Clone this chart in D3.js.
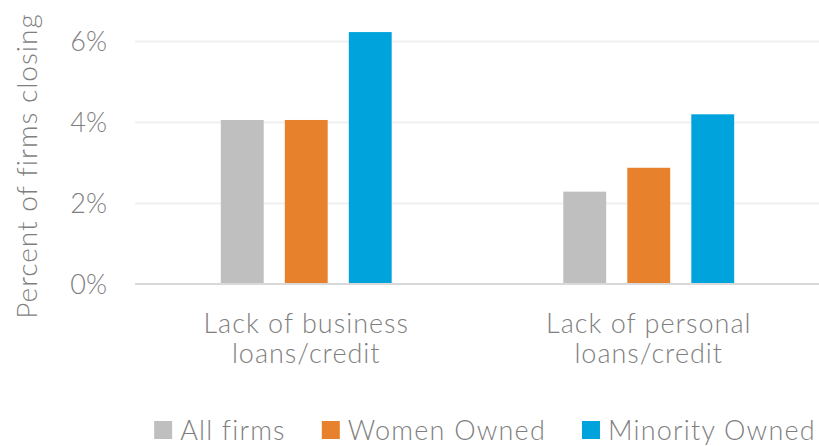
<!DOCTYPE html>
<html lang="en">

<head>
    <meta charset="utf-8">
    <script src="https://d3js.org/d3.v7.min.js"></script>
    <style>
        body { margin: 0; background: #fff; }
        svg text { font-family: Lato, "Open Sans", sans-serif; font-weight: 300; fill: #7f7f7f; }
    </style>
</head>

<body>
    <div id="chart"></div>

    <script>
        // Data
        const categories = [["Lack of business", "loans/credit"], ["Lack of personal", "loans/credit"]];
        const series = ["All firms", "Women Owned", "Minority Owned"];
        const colors = ["#bfbfbf", "#e8812c", "#00a3db"];
        const allFirms = [0.0405, 0.0228];
        const womenOwned = [0.0405, 0.0287];
        const minorityOwned = [0.0622, 0.0419];
        const yTicks = [0, 0.02, 0.04, 0.06];

        const values = [allFirms, womenOwned, minorityOwned];

        const width = 819;
        const height = 446;
        const plotLeft = 135, plotRight = 820, plotBottom = 284;

        const svg = d3.select("#chart")
            .append("svg")
            .attr("width", width)
            .attr("height", height);

        const catKeys = categories.map(c => c.join(" "));

        // group scale and bar scale inside a group
        const x0 = d3.scaleBand().domain(catKeys).range([plotLeft, plotRight]).padding(0);
        const x1 = d3.scaleBand().domain(series)
            .range([x0.bandwidth() / 2 - 96, x0.bandwidth() / 2 + 96])
            .paddingInner(0.33).paddingOuter(0.165);

        const y = d3.scaleLinear().domain([0, 0.06]).range([plotBottom, plotBottom - 243]);

        // gridlines
        svg.append("g")
            .attr("transform", `translate(${plotLeft},0)`)
            .call(d3.axisLeft(y).tickValues(yTicks.slice(1)).tickSize(-(width - plotLeft)).tickFormat(""))
            .call(g => g.select(".domain").remove())
            .call(g => g.selectAll("line").attr("stroke", "#f0f0f0").attr("stroke-width", 2));

        // y tick labels
        svg.append("g")
            .attr("transform", "translate(107,0)")
            .call(d3.axisLeft(y).tickValues(yTicks).tickSize(0).tickPadding(0).tickFormat(d3.format(".0%")))
            .call(g => g.select(".domain").remove())
            .call(g => g.selectAll("text").style("font-size", "27px").attr("dy", "0.36em"));

        // bars
        const groups = svg.append("g").selectAll("g")
            .data(catKeys)
            .join("g")
            .attr("transform", d => `translate(${x0(d)},0)`);

        groups.selectAll("rect")
            .data((d, i) => series.map((s, j) => ({ s: s, v: values[j][i], c: colors[j] })))
            .join("rect")
            .attr("x", d => x1(d.s))
            .attr("width", x1.bandwidth())
            .attr("y", d => y(d.v))
            .attr("height", d => y(0) - y(d.v))
            .attr("fill", d => d.c);

        // baseline
        svg.append("line")
            .attr("x1", plotLeft).attr("x2", width)
            .attr("y1", y(0)).attr("y2", y(0))
            .attr("stroke", "#d9d9d9")
            .attr("stroke-width", 2);

        // category labels
        const catLabels = svg.append("g").selectAll("text")
            .data(categories)
            .join("text")
            .attr("text-anchor", "middle")
            .style("font-size", "27px")
            .style("letter-spacing", "1px")
            .attr("transform", (d, i) => `translate(${x0(catKeys[i]) + x0.bandwidth() / 2},333)`);
        catLabels.selectAll("tspan")
            .data(d => d)
            .join("tspan")
            .attr("x", 0)
            .attr("y", (d, i) => i * 30)
            .text(d => d);

        // y axis title
        svg.append("text")
            .attr("transform", "translate(37,166) rotate(-90)")
            .attr("text-anchor", "middle")
            .style("font-size", "28px")
            .style("letter-spacing", "1px")
            .text("Percent of firms closing");

        // legend
        const legend = svg.append("g");
        let lx = 0;
        series.forEach((s, i) => {
            const item = legend.append("g").attr("transform", `translate(${lx},0)`);
            item.append("rect")
                .attr("x", 0).attr("y", 421)
                .attr("width", 18).attr("height", 18)
                .attr("fill", colors[i]);
            const t = item.append("text")
                .attr("x", 26).attr("y", 440)
                .style("font-size", "27px")
                .style("letter-spacing", "1.2px")
                .text(s);
            lx += 26 + t.node().getComputedTextLength() + 36;
        });
        const legendW = lx - 36;
        legend.attr("transform", `translate(${485 - legendW / 2},0)`);
    </script>
</body>

</html>
